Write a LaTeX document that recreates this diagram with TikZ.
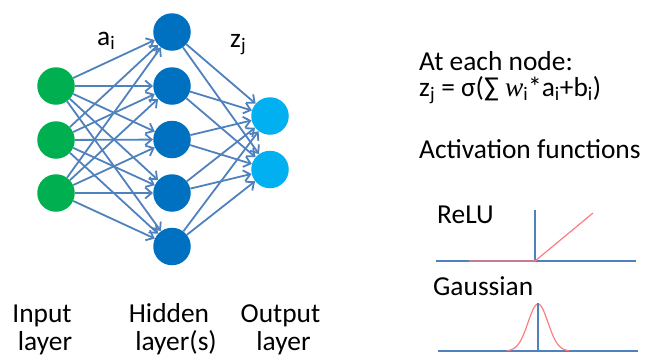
\documentclass[tikz,border=0pt]{standalone}
\usepackage{fontspec}
\setmainfont{Carlito}
\newfontfamily\serifw{Liberation Serif}
\usetikzlibrary{arrows.meta}
\definecolor{ingreen}{RGB}{0,176,80}
\definecolor{hidblue}{RGB}{0,112,192}
\definecolor{outblue}{RGB}{0,176,240}
\definecolor{edgeblue}{RGB}{79,129,189}
\definecolor{curvered}{RGB}{255,124,128}
\begin{document}
\begin{tikzpicture}[x=1bp,y=-1bp,
  neuron/.style={circle,minimum size=37.5bp,inner sep=0pt},
  conn/.style={draw=edgeblue,line width=1.8bp,-{Straight Barb[length=6.5bp,width=11bp]}},
  txt/.style={inner sep=0pt,font=\fontsize{27.5}{29}\selectfont},
  axisline/.style={draw=edgeblue,line width=1.6bp},
  fcurve/.style={draw=curvered,line width=1.2bp}]
\useasboundingbox (0,0) rectangle (651,360);

% input layer
\node[neuron,fill=ingreen] (i1) at (56,86) {};
\node[neuron,fill=ingreen] (i2) at (56,140) {};
\node[neuron,fill=ingreen] (i3) at (56,193) {};
% hidden layer
\node[neuron,fill=hidblue] (h1) at (172,32) {};
\node[neuron,fill=hidblue] (h2) at (172,86) {};
\node[neuron,fill=hidblue] (h3) at (172,139.5) {};
\node[neuron,fill=hidblue] (h4) at (172,193) {};
\node[neuron,fill=hidblue] (h5) at (172,246.5) {};
% output layer
\node[neuron,fill=outblue] (o1) at (270,116) {};
\node[neuron,fill=outblue] (o2) at (270,169.5) {};

\foreach \a in {1,2,3} \foreach \b in {1,...,5} \draw[conn] (i\a) -- (h\b);
\foreach \b in {1,...,5} \foreach \c in {1,2} \draw[conn] (h\b) -- (o\c);

\node[txt,anchor=base west] (lai) at (97,45) {a\textsubscript{i}};
\node[txt,anchor=base west] (lzj) at (230,47) {z\textsubscript{j}};

% bottom labels
\node[txt,anchor=base] (inp1) at (42,322) {Input};
\node[txt,anchor=base] (inp2) at (45,350) {layer};
\node[txt,anchor=base] (hid1) at (169,322) {Hidden};
\node[txt,anchor=base] (hid2) at (176,350) {layer(s)};
\node[txt,anchor=base] (out1) at (280.5,322) {Output};
\node[txt,anchor=base] (out2) at (283.5,350) {layer};

% right text
\node[txt,anchor=base west] (t1) at (419,70) {At each node:};
\node[txt,anchor=base west] (t2) at (419,96) {z\textsubscript{j} = σ(∑ {\serifw\itshape w}\textsubscript{i}*a\textsubscript{i}+b\textsubscript{i})};
\node[txt,anchor=base west] (t3) at (419,158) {Activation functions};
\node[txt,anchor=base west] (t4) at (437,223) {ReLU};
\node[txt,anchor=base west] (t5) at (433,295) {Gaussian};

% ReLU plot
\draw[axisline] (436,261) -- (636,261);
\draw[axisline] (535,210) -- (535,261);
\draw[fcurve] (469,261) -- (535,261) -- (593,213);

% Gaussian plot
\draw[axisline] (438,351) -- (638,351);
\draw[fcurve] plot[domain=-31:31,samples=80,smooth] ({538+\x},{351-47*exp(-\x*\x/200)});
\draw[axisline] (538,303) -- (538,351);
\end{tikzpicture}
\end{document}
